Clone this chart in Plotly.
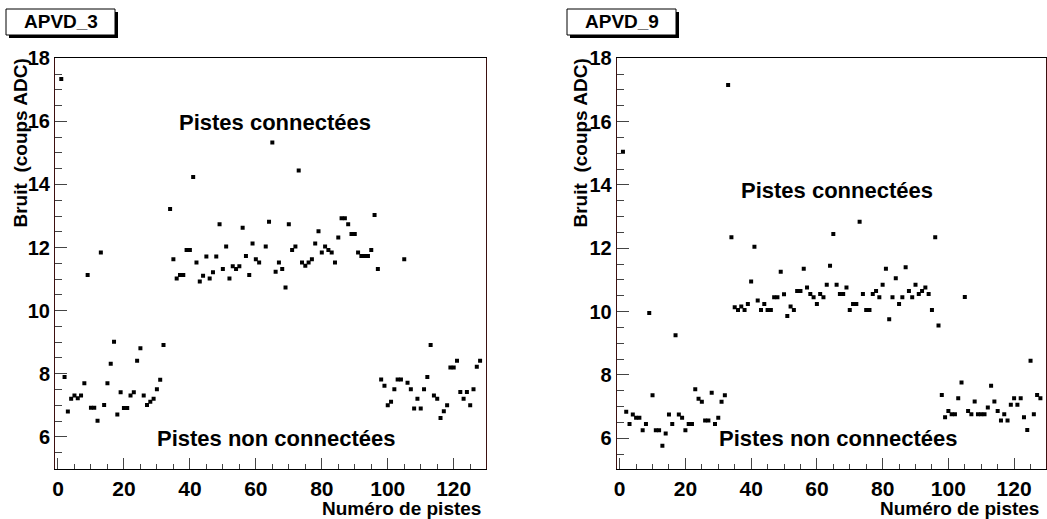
import plotly.graph_objects as go

# numéros de pistes 1..128, bruit en coups ADC (None = pas de point visible)
strips = list(range(1, 129))

noise_apvd3 = [
    17.34, 7.90, 6.80, 7.21, 7.31, 7.22, 7.31, 7.70, 11.13, 6.92,
    6.92, 6.51, 11.84, 7.01, 7.70, 8.32, 9.01, 6.71, 7.41, 6.91,
    6.91, 7.31, 7.41, 8.41, 8.81, 7.31, 7.01, 7.11, 7.21, 7.51,
    7.81, 8.91, None, 13.22, 11.63, 11.02, 11.13, 11.13, 11.92, 11.92,
    14.24, 11.53, 10.92, 11.11, 11.72, 11.02, 11.22, 11.72, 12.74, 11.32,
    12.03, 11.02, 11.41, 11.32, 11.41, 12.63, 11.73, 11.13, 12.13, 11.63,
    11.53, None, 12.03, 12.82, 15.33, 11.23, 11.53, 11.32, 10.73, 12.74,
    11.92, 12.03, 14.44, 11.53, 11.42, 11.53, 11.63, 12.13, 12.52, 11.84,
    12.03, 11.92, 11.84, 11.53, 12.32, 12.93, 12.93, 12.74, 12.43, 12.43,
    11.84, 11.73, 11.73, 11.73, 11.92, 13.03, 11.32, 7.82, 7.62, 7.00,
    7.11, 7.51, 7.82, 7.82, 11.63, 7.71, 7.51, 6.90, 7.21, 6.90,
    7.51, 7.90, 8.91, 7.31, 7.21, 6.60, 6.81, 7.00, 8.20, 8.20,
    8.41, 7.42, 7.21, 7.42, 7.00, 7.51, 8.22, 8.41,
]

noise_apvd9 = [
    15.05, 6.84, 6.45, 6.75, 6.65, 6.65, 6.25, 6.45, 9.96, 7.36,
    6.25, 6.25, 5.76, 6.15, 6.75, 6.45, 9.25, 6.75, 6.65, 6.25,
    6.45, 6.45, 7.55, 7.25, 7.15, 6.56, 6.56, 7.44, 6.45, 6.65,
    7.15, 7.36, 17.16, 12.35, 10.14, 10.05, 10.16, 10.05, 10.24, 10.95,
    12.05, 10.35, 10.05, 10.24, 10.05, 10.05, 10.45, 10.45, 11.26, 10.55,
    9.86, 10.16, 10.05, 10.65, 10.65, 11.35, 10.76, 10.56, 10.45, 10.24,
    10.56, 10.45, 10.85, 11.45, 12.45, 10.85, 10.56, 10.56, 10.76, 10.05,
    10.24, 10.24, 12.84, 10.56, 10.05, 10.05, 10.56, 10.65, 10.45, 10.85,
    11.35, 9.76, 10.45, 11.05, 10.24, 10.45, 11.40, 10.65, 10.45, 10.85,
    10.56, 10.65, 10.76, 10.56, 10.05, 12.35, 9.56, 7.37, 6.66, 6.86,
    6.76, 6.76, 7.26, 7.76, 10.46, 6.86, 6.76, 7.16, 6.76, 6.76,
    6.76, 6.97, 7.66, 7.16, 6.86, 6.56, 6.76, 6.56, 7.06, 7.26,
    7.06, 7.26, 6.66, 6.26, 8.45, 6.76, 7.37, 7.26,
]

W, H = 1047, 519
FONT = "Liberation Sans"

def px(x):
    return x / W

def py(y):
    return 1 - y / H

fig = go.Figure()
fig.add_trace(go.Scatter(x=strips, y=noise_apvd3, mode="markers", xaxis="x", yaxis="y",
                         marker=dict(symbol="square", size=4, color="black")))
fig.add_trace(go.Scatter(x=strips, y=noise_apvd9, mode="markers", xaxis="x2", yaxis="y2",
                         marker=dict(symbol="square", size=4, color="black")))

xa = dict(range=[-0.9, 129.7], tick0=0, dtick=20, ticks="inside", ticklen=11, tickwidth=1,
          tickcolor="#444", showgrid=False, zeroline=False, showline=True, mirror=True,
          linecolor="black", linewidth=1, automargin=False,
          tickfont=dict(family=FONT, size=21, color="black", weight="bold"),
          minor=dict(dtick=5, ticks="inside", ticklen=5, tickcolor="#444", showgrid=False))
ya = dict(dtick=2, ticks="inside", ticklen=12, tickwidth=1, tickcolor="#444",
          showgrid=False, zeroline=False, showline=True, mirror=True,
          linecolor="#3c1010", linewidth=1, automargin=False,
          tickfont=dict(family=FONT, size=20, color="black", weight="bold"),
          minor=dict(dtick=0.5, ticks="inside", ticklen=7, tickcolor="#444", showgrid=False))

fig.update_layout(
    template="none",
    width=W, height=H, showlegend=False,
    margin=dict(l=0, r=0, t=0, b=0, pad=0),
    paper_bgcolor="white", plot_bgcolor="white",
    xaxis=dict(xa, domain=[px(55), px(485.7)], anchor="y"),
    yaxis=dict(ya, domain=[py(469.3), py(58.3)], range=[4.97, 18], anchor="x"),
    xaxis2=dict(xa, domain=[px(616.7), px(1046)], anchor="y2"),
    yaxis2=dict(ya, domain=[py(469.3), py(58.3)], range=[5.02, 18], anchor="x2"),
)

shapes = []
annots = []
for x0, name in [(6, "APVD_3"), (567, "APVD_9")]:
    shapes.append(dict(type="rect", xref="paper", yref="paper",
                       x0=px(x0 + 3), x1=px(x0 + 112), y0=py(38), y1=py(12),
                       fillcolor="black", line=dict(width=0)))
    shapes.append(dict(type="rect", xref="paper", yref="paper",
                       x0=px(x0), x1=px(x0 + 109), y0=py(35), y1=py(9),
                       fillcolor="white", line=dict(color="black", width=1)))
    annots.append(dict(text=name, xref="paper", yref="paper", x=px(x0 + 54.5), y=py(22),
                       showarrow=False, xanchor="center", yanchor="middle",
                       font=dict(family=FONT, size=19, color="black", weight="bold")))

for xl, xr in [(20, 483), (580, 1041)]:
    annots.append(dict(text="Bruit  (coups ADC)", xref="paper", yref="paper",
                       x=px(xl), y=py(57), textangle=-90, showarrow=False,
                       xanchor="center", yanchor="top",
                       font=dict(family=FONT, size=19, color="black", weight="bold")))
    annots.append(dict(text="Numéro de pistes", xref="paper", yref="paper",
                       x=px(xr), y=py(508), showarrow=False,
                       xanchor="right", yanchor="middle",
                       font=dict(family=FONT, size=19, color="black", weight="bold")))

labels = [(177, 123, "Pistes connectées"), (155, 438, "Pistes non connectées"),
          (739, 190, "Pistes connectées"), (717, 438, "Pistes non connectées")]
for x, y, t in labels:
    annots.append(dict(text=t, xref="paper", yref="paper", x=px(x), y=py(y),
                       showarrow=False, xanchor="left", yanchor="middle",
                       font=dict(family=FONT, size=22, color="black", weight="bold")))

fig.update_layout(shapes=shapes, annotations=annots)
fig.write_html("out.html", config={"displayModeBar": False},
               post_script="document.body.style.margin='0';")
